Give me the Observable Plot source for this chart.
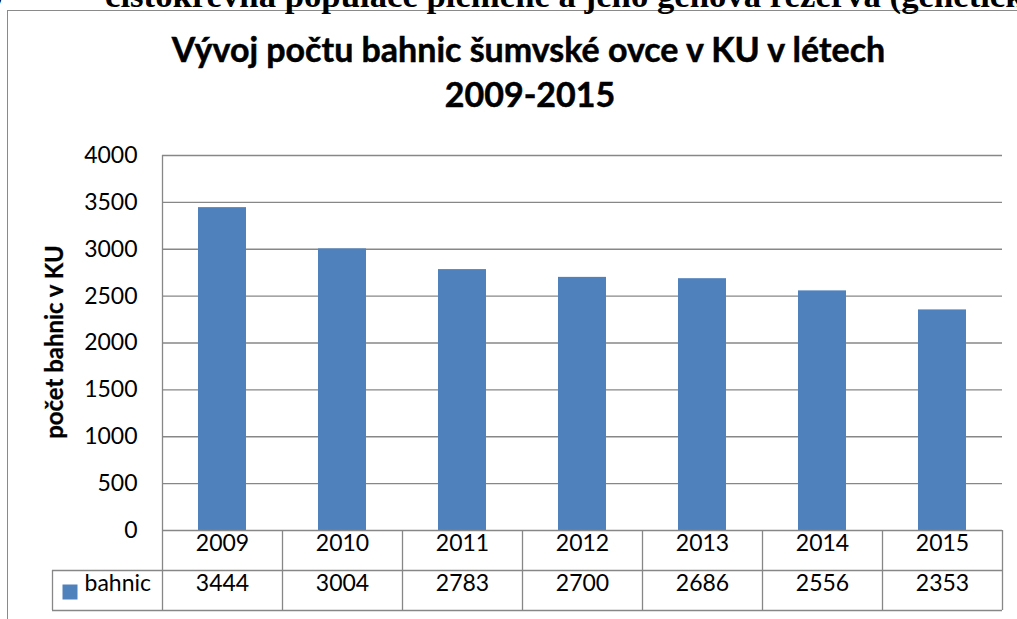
<!DOCTYPE html>
<html><head><meta charset="utf-8">
<script src="https://cdn.jsdelivr.net/npm/d3@7"></script>
<script src="https://cdn.jsdelivr.net/npm/@observablehq/plot@0.6"></script>
<style>
body{margin:0;background:#fff;}
#wrap{position:relative;width:1017px;height:619px;overflow:hidden;background:#fff;}
#frame{position:absolute;left:7px;top:10px;width:1200px;height:800px;border:1.5px solid #8a8a8a;}
#chart{position:absolute;left:0;top:0;}
#overlay{position:absolute;left:0;top:0;}
</style>
</head><body>
<div id="wrap">
  <div id="frame"></div>
  <div id="chart"></div>
  <svg id="overlay" width="1017" height="619"></svg>
</div>
<script>
const years = ["2009","2010","2011","2012","2013","2014","2015"];
const bahnic = [3444,3004,2783,2700,2686,2556,2353];
const seriesName = "bahnic";
const yTicks = [0,500,1000,1500,2000,2500,3000,3500,4000];
const title1 = "Vývoj počtu bahnic šumvské ovce v KU v létech";
const title2 = "2009-2015";
const yLabel = "počet bahnic v KU";
const headerText = "čistokrevná populace plemene a jeho genová rezerva (genetický zdroj)";
const headerLead = "čistokrevná populace plemene a jeho ";

const data = years.map((year, i) => ({year, value: bahnic[i]}));
const barColor = "#4F81BD";
const gridColor = "#878787";

const chart = Plot.plot({
  width: 1017, height: 619,
  marginLeft: 162, marginRight: 15, marginTop: 155, marginBottom: 89,
  style: {background: "transparent", fontFamily: "Lato, sans-serif", fontSize: "23px", color: "#000", overflow: "visible"},
  x: {type: "band", domain: years, padding: 0, axis: null},
  y: {domain: [0, 4000], axis: null},
  marks: [
    Plot.ruleY(yTicks.filter(d => d > 0), {y: d => d, stroke: gridColor, strokeWidth: 1.3}),
    Plot.barY(data, {x: "year", y: "value", fill: barColor, insetLeft: 36, insetRight: 36}),
    Plot.text(yTicks, {y: d => d, frameAnchor: "left", dx: -25, textAnchor: "end", text: d => String(d), fill: "#000"}),
    // table lines
    Plot.ruleY([0], {y: d => d, stroke: gridColor, strokeWidth: 1.3}),
    Plot.ruleY([0], {y: d => d, dy: 40, insetLeft: -110, stroke: gridColor, strokeWidth: 1.3}),
    Plot.ruleY([0], {y: d => d, dy: 80, insetLeft: -110, stroke: gridColor, strokeWidth: 1.3}),
    Plot.ruleX([years[0]], {x: d => d, dx: -60, insetBottom: -80, stroke: gridColor, strokeWidth: 1.3}),
    Plot.ruleX(years.slice(1), {x: d => d, dx: -60, insetTop: 375, insetBottom: -80, stroke: gridColor, strokeWidth: 1.3}),
    Plot.ruleX([years[years.length - 1]], {x: d => d, dx: 60, insetTop: 375, insetBottom: -80, stroke: gridColor, strokeWidth: 1.3}),
    Plot.ruleX([years[0]], {x: d => d, dx: -170, insetTop: 415, insetBottom: -80, stroke: gridColor, strokeWidth: 1.3}),
    // table text
    Plot.text(years, {x: d => d, frameAnchor: "bottom", dy: 20, text: d => d, fill: "#000"}),
    Plot.text(data, {x: "year", frameAnchor: "bottom", dy: 60, text: d => String(d.value), fill: "#000"}),
    Plot.text([seriesName], {frameAnchor: "bottom-left", dx: -78, dy: 60, textAnchor: "start", text: d => d, fill: "#000"}),
    Plot.dot([seriesName], {frameAnchor: "bottom-left", dx: -92.5, dy: 61.5, symbol: "square", r: 8.46, fill: barColor, stroke: "none"})
  ]
});
chart.style.maxWidth = "none";
document.getElementById("chart").appendChild(chart);

// text overlay (titles, header, axis label)
const ctx = document.createElement("canvas").getContext("2d");
function fitSize(text, family, weight, targetWidth) {
  ctx.font = `${weight} 100px ${family}`;
  return 100 * targetWidth / ctx.measureText(text).width;
}
const svg = d3.select("#overlay");
const serif = '"Liberation Serif", serif';
const sans = 'Lato, sans-serif';

const hs = fitSize(headerLead, serif, "bold", 552);
svg.append("text").attr("x", 105).attr("y", 7)
  .attr("font-family", serif).attr("font-weight", "bold").attr("font-size", hs)
  .attr("fill", "#000").text(headerText);
svg.append("text").attr("x", 3).attr("y", 3).attr("text-anchor", "end")
  .attr("font-family", serif).attr("font-weight", "bold").attr("font-size", hs)
  .attr("fill", "#000").text(")");

const ts = fitSize(title1, sans, "bold", 717);
svg.append("text").attr("x", 528.5).attr("y", 62).attr("text-anchor", "middle")
  .attr("font-family", sans).attr("font-weight", "bold").attr("font-size", ts)
  .attr("fill", "#000").attr("stroke", "#000").attr("stroke-width", 0.5).text(title1);
svg.append("text").attr("x", 530).attr("y", 107).attr("text-anchor", "middle")
  .attr("font-family", sans).attr("font-weight", "bold").attr("font-size", ts)
  .attr("fill", "#000").attr("stroke", "#000").attr("stroke-width", 0.5).text(title2);

const ls = fitSize(yLabel, sans, "bold", 195);
svg.append("text").attr("transform", "translate(53,342) rotate(-90)")
  .attr("text-anchor", "middle").attr("dominant-baseline", "central")
  .attr("font-family", sans).attr("font-weight", "bold").attr("font-size", ls)
  .attr("fill", "#000").attr("stroke", "#000").attr("stroke-width", 0.3).text(yLabel);
</script>
</body></html>
